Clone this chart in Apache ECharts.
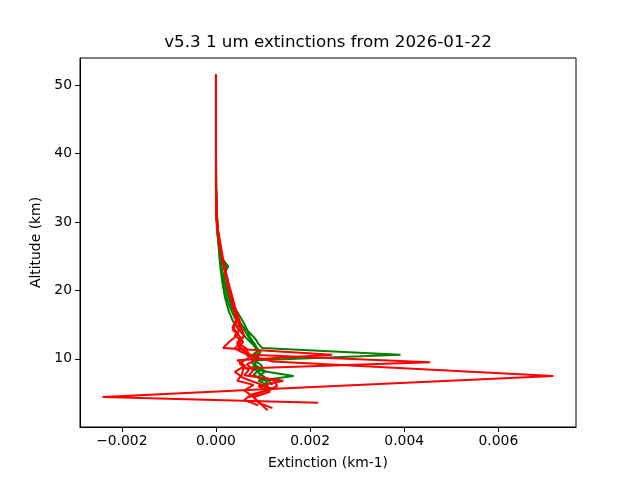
<!DOCTYPE html>
<html>
<head>
<meta charset="utf-8">
<script src="https://cdn.jsdelivr.net/npm/echarts@6/dist/echarts.min.js"></script>
<style>html,body{margin:0;padding:0;background:#fff}#c{width:640px;height:480px}</style>
</head>
<body>
<div id="c"></div>
<script>
// ---- data (extinction km-1 vs altitude km) ----
const xTicks = [-0.002, 0.0, 0.002, 0.004, 0.006];
const yTicks = [10, 20, 30, 40, 50];

const g1Alt = [51.5,45,40,35,31,29,27,25,23.5,22,20.5,19,17.5,16,14.8,13.8,12.8,12.2,11.6,10.6,9.8,9,8.2,7.4,6.6,5.8];
const g1Ext = [0,0,0,0.00001,0.00002,0.00004,0.00006,0.00009,0.00026,0.00013,0.00016,0.00022,0.0003,0.0004,0.00056,0.00072,0.00085,0.0009,0.00098,0.00392,0.00088,0.0008,0.00105,0.0009,0.0011,0.00095];
const g2Alt = [51.5,45,40,35,31,28.5,26.5,24.5,22.5,20.5,18.5,17,15.5,14.3,13.2,12.2,11.2,10.3,9.4,8.5,7.5,6.8,6.2,5.6];
const g2Ext = [0,0,0,0,0.00001,0.00003,0.00006,0.0001,0.00014,0.00022,0.00032,0.00044,0.00057,0.00066,0.00072,0.00082,0.0009,0.00072,0.00085,0.00075,0.00165,0.0009,0.0011,0.00102];
const g3Alt = [51.5,45,40,35,31,29,27,25,23,21,19,17,15.5,14,13,12,11,10,9,8,7,6.2];
const g3Ext = [0,0,0,0,0.00001,0.00002,0.00005,0.00007,0.0001,0.00014,0.00019,0.00027,0.00036,0.00052,0.00065,0.0008,0.00095,0.00078,0.00098,0.0009,0.0011,0.0012];
const g4Alt = [51.5,45,40,35,31,29,27,25,23.4,21.5,19.5,17.5,16,14.5,13.3,12.3,11.3,10.4,9.5,8.6,7.7,6.8];
const g4Ext = [0,0,0,0,0.00002,0.00004,0.00007,0.0001,0.00022,0.00015,0.00024,0.00034,0.00046,0.00058,0.00068,0.00078,0.00086,0.0009,0.00075,0.00095,0.0008,0.001];

const r1Alt = [51.5,45,40,35,31,29,27,25,23,21,19,17,15.5,14.3,13.3,12.4,11.5,10.5,9.6,7.5,5.5,4.45,3.6];
const r1Ext = [0,0,0,0,0.00001,0.00003,0.00008,0.00013,0.00019,0.00026,0.00034,0.00042,0.0005,0.00055,0.0006,0.00045,0.00065,0.0007,0.00121,0.00717,0.0008,-0.00241,0.00217];
const r2Alt = [51.5,45,40,35,31,29,27,25,23,21,19,17,15.5,14.4,13.4,12.5,11.6,10.6,9.5,8.6,7.7,6.8,6.2,5.4,4.4,3.4,2.5];
const r2Ext = [0,0,0,0,0.00001,0.00003,0.00007,0.00012,0.00018,0.00025,0.00032,0.0004,0.00047,0.00052,0.0004,0.00058,0.00048,0.00074,0.00455,0.00058,0.00055,0.00045,0.0008,0.0006,0.0008,0.00095,0.0011];
const r3Alt = [51.5,45,40,35,31,29,27,25,23,21,19,17,15.6,14.6,13.6,12.6,11.6,10.6,9.8,9,8.1,7.2,6.4,5.6,4.8,4,3.2];
const r3Ext = [0,0,0,0,0.00001,0.00003,0.00008,0.00013,0.00019,0.00025,0.00033,0.00041,0.00042,0.00035,0.00048,0.0003,0.00015,0.00247,0.00045,0.00062,0.0004,0.00058,0.0009,0.0012,0.00075,0.0006,0.0009];
const r4Alt = [51.5,45,40,35,31,29,27,25,23,21,19,17,15.4,14.2,13.2,12.2,11.2,10.2,9.3,8.4,7.6,6.8,6,5.2,4.4,3.6,2.8];
const r4Ext = [0,0,0,0,0.00001,0.00003,0.00007,0.00012,0.00018,0.00024,0.00031,0.00039,0.00044,0.00036,0.00052,0.00045,0.0006,0.0007,0.0005,0.0007,0.0006,0.00143,0.0009,0.00115,0.0008,0.0009,0.0012];
const r5Alt = [51.5,45,40,35,31,29,27,25,23,21,19,17,15.5,14.5,13.5,12.5,11.5,10.8,10,9.2,8.4,7.6,6.8,6,5.2,4.4];
const r5Ext = [0,0,0,0,0.00002,0.00004,0.00009,0.00014,0.0002,0.00027,0.00035,0.00043,0.0005,0.00045,0.0006,0.00052,0.0004,0.0006,0.0009,0.00065,0.0008,0.0007,0.00125,0.0013,0.001,0.0007];

const greens = [[g1Ext,g1Alt],[g2Ext,g2Alt],[g3Ext,g3Alt],[g4Ext,g4Alt]];
const reds = [[r1Ext,r1Alt],[r2Ext,r2Alt],[r3Ext,r3Alt],[r4Ext,r4Alt],[r5Ext,r5Alt]];

// autoscale with 5% margins like matplotlib
let xs = [], ys = [];
greens.concat(reds).forEach(p => { xs = xs.concat(p[0]); ys = ys.concat(p[1]); });
const xMin0 = Math.min(...xs), xMax0 = Math.max(...xs);
const yMin0 = Math.min(...ys), yMax0 = Math.max(...ys);
const xR = xMax0 - xMin0, yR = yMax0 - yMin0;

const font = 'DejaVu Sans';
function mk(p, color) {
  return {
    type: 'line', showSymbol: false, symbol: 'none', animation: false,
    data: p[0].map((x, i) => [x, p[1][i]]),
    lineStyle: { color: color, width: 2 }, itemStyle: { color: color },
    clip: false
  };
}
const series = greens.map(p => mk(p, '#008000')).concat(reds.map(p => mk(p, '#ff0000')));

const chart = echarts.init(document.getElementById('c'));
chart.setOption({
  animation: false,
  backgroundColor: '#fff',
  grid: { left: 80, right: 64, top: 58, bottom: 53, show: true, borderColor: '#000', borderWidth: 1, backgroundColor: 'transparent' },
  xAxis: {
    type: 'value', min: xMin0 - 0.05 * xR, max: xMax0 + 0.05 * xR,
    name: 'Extinction (km-1)', nameLocation: 'middle', nameGap: 29,
    nameTextStyle: { fontFamily: font, fontSize: 13.9, color: '#000' },
    axisLine: { show: true, onZero: false, lineStyle: { color: '#000', width: 1 } },
    axisTick: { show: true, length: 5, customValues: xTicks, lineStyle: { color: '#000' } },
    axisLabel: { customValues: xTicks, margin: 7, fontFamily: font, fontSize: 13.9, color: '#000',
      formatter: v => (v < 0 ? '\u2212' : '') + Math.abs(v).toFixed(3) },
    splitLine: { show: false }
  },
  yAxis: {
    type: 'value', min: yMin0 - 0.05 * yR, max: yMax0 + 0.05 * yR,
    name: 'Altitude (km)', nameLocation: 'middle', nameGap: 32,
    nameTextStyle: { fontFamily: font, fontSize: 13.9, color: '#000' },
    axisLine: { show: true, onZero: false, lineStyle: { color: '#000', width: 1 } },
    axisTick: { show: true, length: 5, customValues: yTicks, lineStyle: { color: '#000' } },
    axisLabel: { customValues: yTicks, margin: 8, fontFamily: font, fontSize: 13.9, color: '#000',
      formatter: v => String(v) },
    splitLine: { show: false }
  },
  graphic: [{
    type: 'text', x: 328, y: 43,
    style: { text: 'v5.3 1 um extinctions from 2026-01-22', fontFamily: font, fontSize: 16.7, fill: '#000', align: 'center', verticalAlign: 'middle' }
  }],
  series: series
});
</script>
</body>
</html>
